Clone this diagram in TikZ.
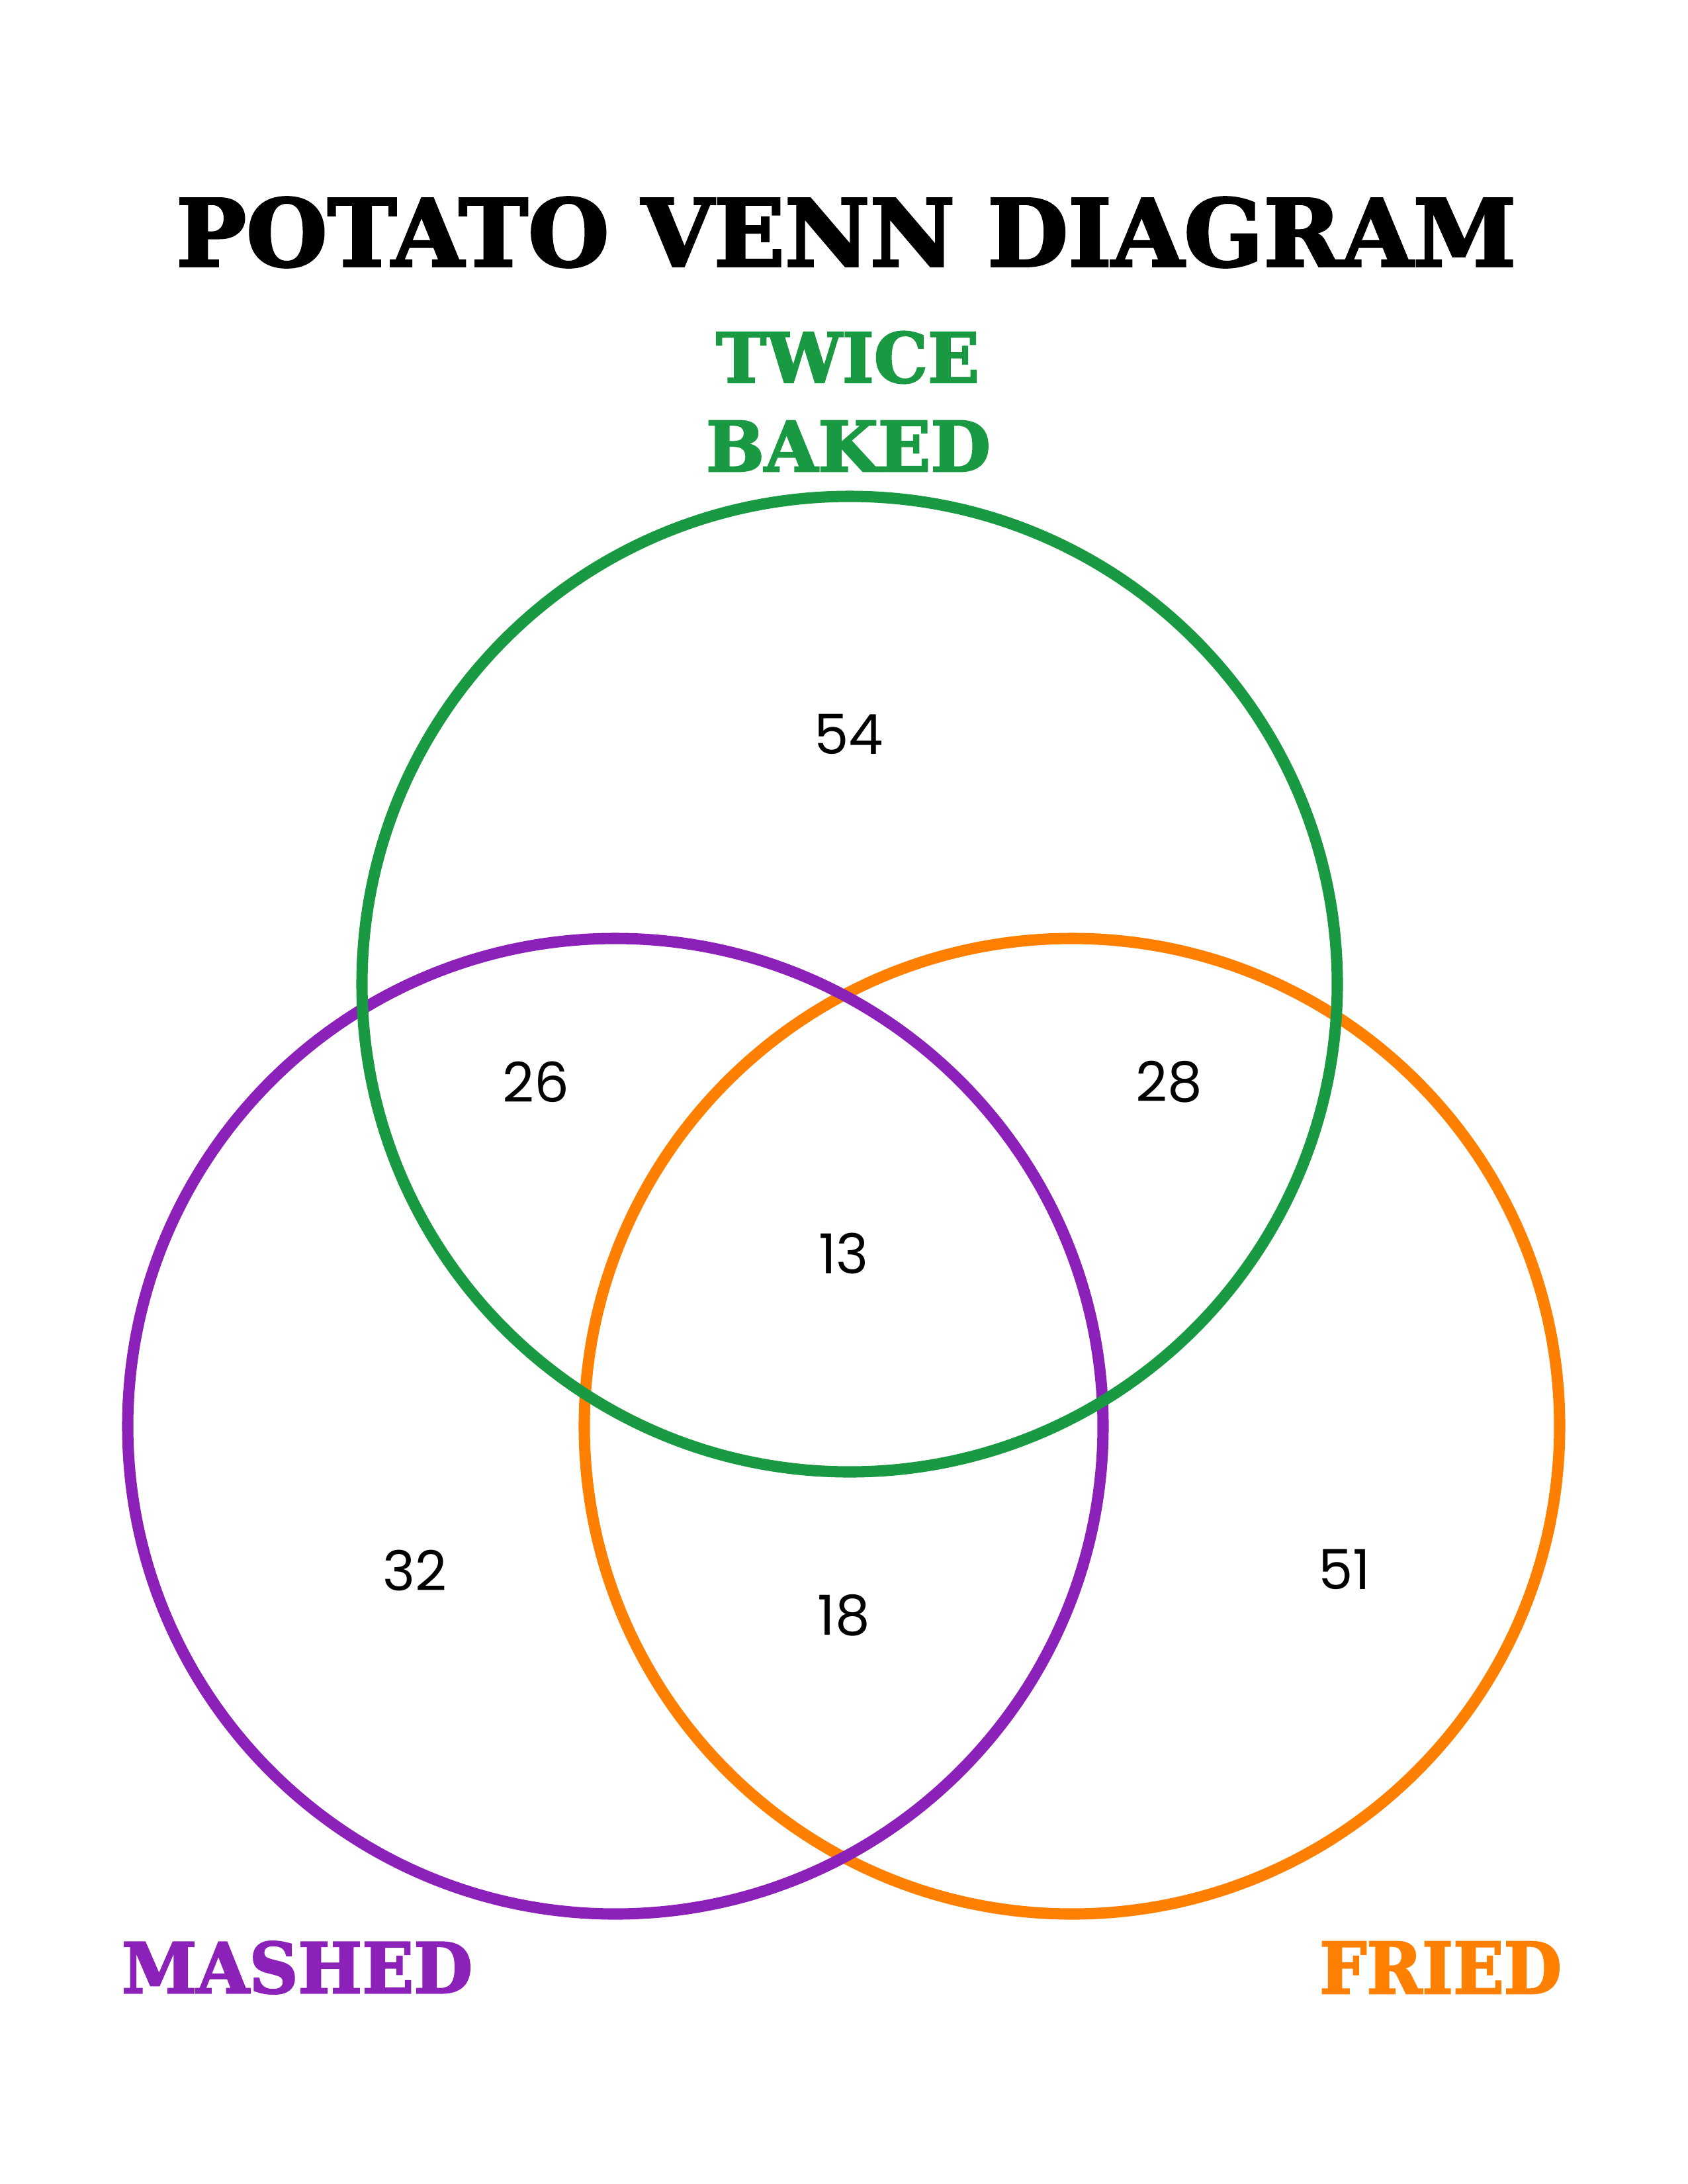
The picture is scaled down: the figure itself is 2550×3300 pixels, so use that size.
\documentclass[tikz,border=0pt]{standalone}
\usepackage{fontspec}
\usepackage{graphicx}
\newfontfamily\titlefont{DejaVu Serif}[BoldFont={* Bold}, BoldFeatures={FakeBold=2.5}]
\newfontfamily\numfont{Poppins}
\definecolor{vgreen}{RGB}{26,153,67}
\definecolor{vpurple}{RGB}{139,33,185}
\definecolor{vorange}{RGB}{255,128,0}
\tikzset{
  ring/.style={line width=4.1pt},
  lbl/.style={inner sep=0pt, outer sep=0pt},
  num/.style={inner sep=0pt, font=\numfont\fontsize{20}{24}\selectfont, text=black}
}
\begin{document}
\begin{tikzpicture}[x=0.24pt,y=-0.24pt]
\useasboundingbox[fill=white] (0,0) rectangle (2550,3300);
% circles
\draw[ring, vorange] (1620,2155) circle[radius=737];
\draw[ring, vpurple] (930,2155) circle[radius=737];
\draw[ring, vgreen] (1284,1487) circle[radius=737];
% title
\node[lbl] (title) at (1279,351) {\resizebox{486pt}{25pt}{\titlefont\bfseries POTATO VENN DIAGRAM}};
% set labels
\node[lbl, text=vgreen] (twice) at (1281,540) {\resizebox{95.5pt}{18.5pt}{\titlefont\bfseries TWICE}};
\node[lbl, text=vgreen] (baked) at (1282,674) {\resizebox{103.2pt}{18.3pt}{\titlefont\bfseries BAKED}};
\node[lbl, text=vpurple] (mashed) at (449,2973) {\resizebox{127.2pt}{18.7pt}{\titlefont\bfseries MASHED}};
\node[lbl, text=vorange] (fried) at (2177,2973) {\resizebox{87.8pt}{18.7pt}{\titlefont\bfseries FRIED}};
% numbers
\node[num] (n54) at (1283,1109) {54};
\node[num] (n26) at (810,1635) {26};
\node[num] (n28) at (1767,1635) {28};
\node[num] (n13) at (1275,1894) {13};
\node[num] (n32) at (627,2373) {32};
\node[num] (n18) at (1275,2441) {18};
\node[num] (n51) at (2032,2371) {51};
\end{tikzpicture}
\end{document}
